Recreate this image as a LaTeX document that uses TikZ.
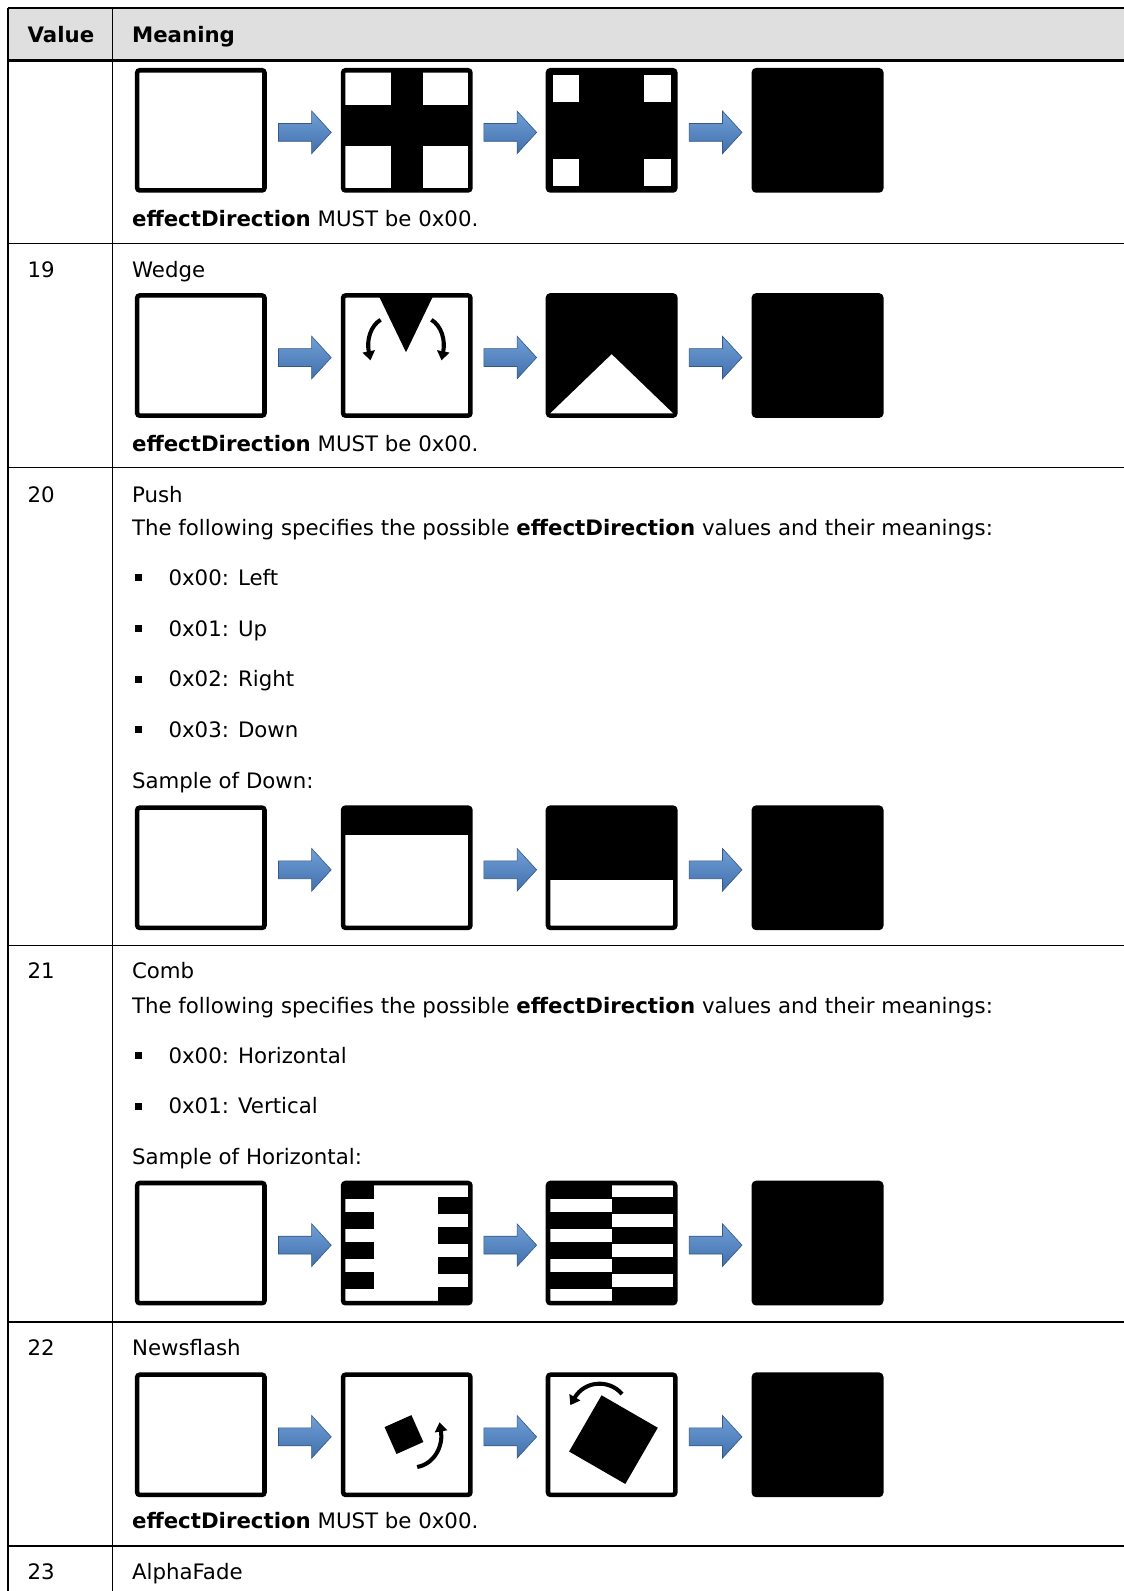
\documentclass[tikz,border=0pt]{standalone}
\usepackage{fontspec}
\setmainfont{DejaVu Sans}
\usetikzlibrary{shapes.arrows,arrows.meta}
\definecolor{headgray}{RGB}{223,223,223}
\definecolor{arrowlight}{RGB}{112,158,214}
\definecolor{arrowblue}{RGB}{66,112,172}
\definecolor{arrowdark}{RGB}{52,88,135}

\tikzset{
  frame/.style={draw,line width=4.5pt,rounded corners=2.5pt,minimum width=125.5pt,
    minimum height=118.5pt,inner sep=0pt,outer sep=0pt},
  blockarrow/.style={single arrow,draw=arrowdark,line width=.6pt,top color=arrowlight,
    bottom color=arrowblue,minimum height=52pt,inner xsep=0pt,inner ysep=8.5pt,
    single arrow head extend=12.25pt,single arrow tip angle=95,outer sep=0pt},
  txt/.style={anchor=base west,inner sep=0pt,font=\fontsize{21}{25}\selectfont},
  hdr/.style={anchor=base west,inner sep=0pt,font=\fontsize{21}{25}\selectfont\bfseries},
  bsq/.style={fill=black,minimum size=7pt,inner sep=0pt},
  turn/.style={line width=4pt,-{Triangle[length=9pt,width=12pt]}},
  tab/.style={line width=1.6pt},
}

\begin{document}
\begin{tikzpicture}[x=1pt,y=-1pt]
  \useasboundingbox (0,0) rectangle (1108,1568.5);
  \pgfmathsetmacro{\W}{125.5}
  \pgfmathsetmacro{\H}{118.5}

  % table
  \fill[headgray] (8,8) rectangle (1108,60);
  \draw[tab] (8,8) -- (1108,8);
  \draw[tab] (8,8) -- (8,1568.5);
  \draw[tab] (111,8) -- (111,1568.5);
  \draw[line width=3pt] (8,60) -- (1108,60);
  \foreach \y in {240,461,932,1303,1524}
    \draw[tab] (8,\y) -- (1108,\y);

  \node[hdr] (hv) at (27,42) {Value};
  \node[hdr] (hm) at (130,42) {Meaning};

  % picture strips
  \foreach \r/\y/\cf in {18/128.5/black,19/350.5/black,20/855.5/white,21/1225.5/white,22/1414.5/white} {
    \node[frame] (s\r a) at (198,\y) {};
    \node[frame] (s\r b) at (401,\y) {};
    \node[frame,fill=\cf] (s\r c) at (603,\y) {};
    \node[frame,fill=black] (s\r d) at (806,\y) {};
    \node[blockarrow] (p\r a) at (296.5,\y+2) {};
    \node[blockarrow] (p\r b) at (499,\y+2) {};
    \node[blockarrow] (p\r c) at (701.5,\y+2) {};
  }

  % 18
  \begin{scope}[shift={(s18b.north west)}]
    \fill (47,0) rectangle (79,\H);
    \fill (0,34) rectangle (\W,75);
  \end{scope}
  \begin{scope}[shift={(s18c.north west)}]
    \fill[white] (4.5,4.5) rectangle (31,31);
    \fill[white] (\W-31,4.5) rectangle (\W-4.5,31);
    \fill[white] (4.5,\H-31) rectangle (31,\H-4.5);
    \fill[white] (\W-31,\H-31) rectangle (\W-4.5,\H-4.5);
  \end{scope}
  \node[txt] (e18) at (130,223) {\textbf{effectDirection} MUST be 0x00.};

  % 19
  \node[txt] (v19) at (27,274) {19};
  \node[txt] (m19) at (130,274) {Wedge};
  \begin{scope}[shift={(s19b.north west)}]
    \fill (35,0) -- (89,0) -- (62,56) -- cycle;
    \draw[turn] (37,24) .. controls (27,30) and (23,44) .. (27,64);
    \draw[turn] (87,24) .. controls (97,30) and (101,44) .. (97,64);
  \end{scope}
  \begin{scope}[shift={(s19c.north west)}]
    \fill[white] (2.25,\H-2.25) -- (\W-2.25,\H-2.25) -- (\W/2,58) -- cycle;
  \end{scope}
  \node[txt] (e19) at (130,445) {\textbf{effectDirection} MUST be 0x00.};

  % 20
  \node[txt] (v20) at (27,495) {20};
  \node[txt] (m20) at (130,495) {Push};
  \node[txt] (f20) at (130,528) {The following specifies the possible \textbf{effectDirection} values and their meanings:};
  \foreach \i/\y/\t in {1/577/{0x00: Left},2/627/{0x01: Up},3/677/{0x02: Right},4/727/{0x03: Down}} {
    \node[bsq] (q20\i) at (136.5,\y-7.5) {};
    \node[txt] (l20\i) at (166,\y) {\t};
  }
  \node[txt] (d20) at (130,777) {Sample of Down:};
  \begin{scope}[shift={(s20b.north west)}]
    \fill (0,0) rectangle (\W,27);
  \end{scope}
  \begin{scope}[shift={(s20c.north west)}]
    \fill (0,0) rectangle (\W,71);
  \end{scope}

  % 21
  \node[txt] (v21) at (27,965) {21};
  \node[txt] (m21) at (130,965) {Comb};
  \node[txt] (f21) at (130,999) {The following specifies the possible \textbf{effectDirection} values and their meanings:};
  \foreach \i/\y/\t in {1/1048/{0x00: Horizontal},2/1098/{0x01: Vertical}} {
    \node[bsq] (q21\i) at (136.5,\y-7.5) {};
    \node[txt] (l21\i) at (166,\y) {\t};
  }
  \node[txt] (d21) at (130,1148) {Sample of Horizontal:};
  \begin{scope}[shift={(s21b.north west)}]
    \foreach \k in {0,2,4,6}
      \fill (0,{max(0,\k*\H/8-0.8)}) rectangle (30,{(\k+1)*\H/8+0.8});
    \foreach \k in {1,3,5,7}
      \fill (94,{\k*\H/8-0.8}) rectangle (\W,{min(\H,(\k+1)*\H/8+0.8)});
  \end{scope}
  \begin{scope}[shift={(s21c.north west)}]
    \foreach \k in {0,2,4,6}
      \fill (0,{max(0,\k*\H/8-0.8)}) rectangle (\W/2,{(\k+1)*\H/8+0.8});
    \foreach \k in {1,3,5,7}
      \fill (\W/2,{\k*\H/8-0.8}) rectangle (\W,{min(\H,(\k+1)*\H/8+0.8)});
  \end{scope}

  % 22
  \node[txt] (v22) at (27,1336) {22};
  \node[txt] (m22) at (130,1336) {Newsflash};
  \begin{scope}[shift={(s22b.north west)}]
    \fill[rotate around={24:(60,59)}] (45.5,44.5) rectangle (74.5,73.5);
    \draw[turn] (73,91) .. controls (90,88) and (99,70) .. (95,47);
  \end{scope}
  \begin{scope}[shift={(s22c.north west)}]
    \fill[rotate around={-30:(64.5,64)}] (32.5,32) rectangle (96.5,96);
    \draw[turn] (73,19) .. controls (60,4) and (36,6) .. (22,30);
  \end{scope}
  \node[txt] (e22) at (130,1507) {\textbf{effectDirection} MUST be 0x00.};

  % 23
  \node[txt] (v23) at (27,1557) {23};
  \node[txt] (m23) at (130,1557) {AlphaFade};
\end{tikzpicture}
\end{document}
